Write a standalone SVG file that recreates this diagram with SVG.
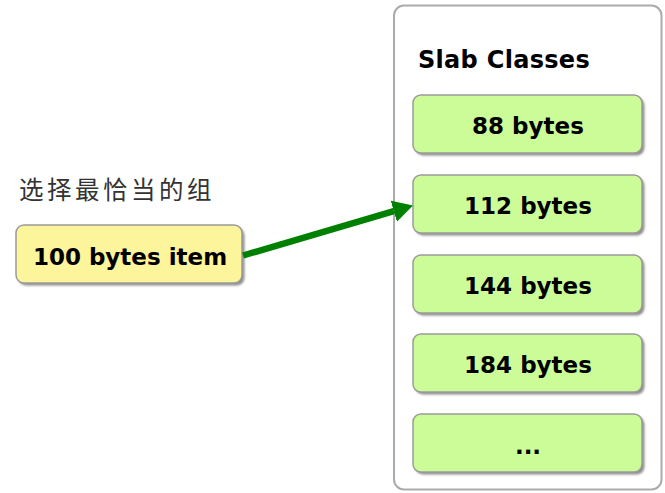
<svg xmlns="http://www.w3.org/2000/svg" width="665" height="493" viewBox="0 0 665 493">
  <defs>
    <filter id="soft" x="-10%" y="-10%" width="120%" height="130%">
      <feGaussianBlur stdDeviation="0.8"/>
    </filter>
    <marker id="head" markerUnits="userSpaceOnUse" markerWidth="22" markerHeight="24" refX="0" refY="11" orient="auto">
      <path d="M0,0 L20,11 L0,22 Z" fill="#008000"/>
    </marker>
  </defs>
  <style>
    .shadow { fill: #8f8f8f; filter: url(#soft); }
    .slot { fill: #ccfc98; stroke: #9a9a9a; stroke-width: 1.5; }
    .item { fill: #fdf59c; stroke: #9a9a9a; stroke-width: 1.5; }
    .label { font-family: "DejaVu Sans", "Liberation Sans", sans-serif; font-weight: bold; font-size: 23px; fill: #000; text-anchor: middle; }
    .caption { font-family: "Noto Sans CJK SC", "Noto Sans", sans-serif; font-size: 24.5px; fill: #333; letter-spacing: 3.5px; }
    .conn { fill: none; stroke: #008000; stroke-width: 6.5; }
  </style>

  <rect width="665" height="493" fill="#fff"/>

  <!-- slab class container -->
  <g id="slab-classes">
    <rect x="394" y="5.5" width="267.5" height="484" rx="10" fill="#fff" stroke="#ababab" stroke-width="2"/>
    <text x="418" y="68" style="font-family: 'DejaVu Sans', 'Liberation Sans', sans-serif; font-weight: bold; font-size: 24px; letter-spacing: 0.3px; fill: #000;">Slab Classes</text>
  </g>

  <g id="class-88">
    <rect class="shadow" x="415.5" y="97.5" width="229" height="58" rx="8"/>
    <rect class="slot" x="413" y="95" width="229" height="58" rx="8"/>
    <text class="label" x="528" y="133.5">88 bytes</text>
  </g>

  <g id="class-112">
    <rect class="shadow" x="415.5" y="177.5" width="229" height="58" rx="8"/>
    <rect class="slot" x="413" y="175" width="229" height="58" rx="8"/>
    <text class="label" x="528" y="213.5">112 bytes</text>
  </g>

  <g id="class-144">
    <rect class="shadow" x="415.5" y="257.5" width="229" height="58" rx="8"/>
    <rect class="slot" x="413" y="255" width="229" height="58" rx="8"/>
    <text class="label" x="528" y="293.5">144 bytes</text>
  </g>

  <g id="class-184">
    <rect class="shadow" x="415.5" y="336.5" width="229" height="58" rx="8"/>
    <rect class="slot" x="413" y="334" width="229" height="58" rx="8"/>
    <text class="label" x="528" y="372.5">184 bytes</text>
  </g>

  <g id="class-more">
    <rect class="shadow" x="415.5" y="416.5" width="229" height="58" rx="8"/>
    <rect class="slot" x="413" y="414" width="229" height="58" rx="8"/>
    <text class="label" x="528" y="454">...</text>
  </g>

  <!-- incoming item -->
  <g id="item">
    <text class="caption" x="19" y="199">选择最恰当的组</text>
    <rect class="shadow" x="18.5" y="227.5" width="226" height="58" rx="8"/>
    <rect class="item" x="16" y="225" width="226" height="58" rx="8"/>
    <text class="label" x="130" y="264.5">100 bytes item</text>
  </g>

  <!-- connectors -->
  <g id="connectors">
    <line class="conn" x1="243" y1="255.5" x2="393.8" y2="211.2" marker-end="url(#head)"/>
  </g>
</svg>
